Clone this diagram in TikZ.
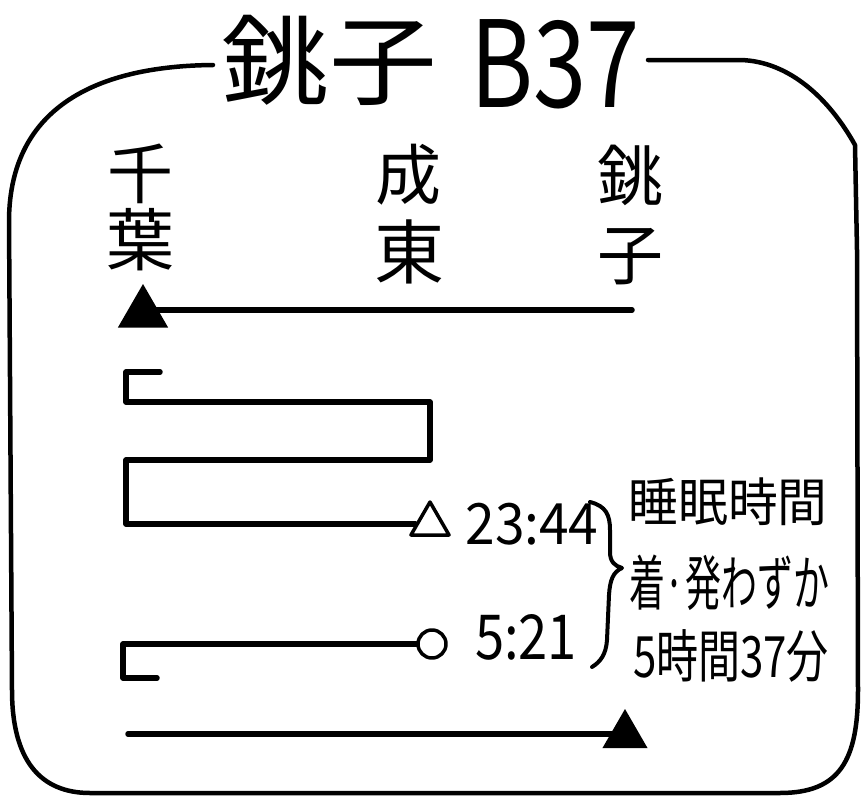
\documentclass[tikz,border=0pt]{standalone}
\usepackage{fontspec}
\usepackage{graphicx}
\usetikzlibrary{shapes.geometric}
\newfontfamily\jp{Noto Sans CJK JP}
\begin{document}
\begin{tikzpicture}[x=1pt,y=-1pt,line cap=round,line join=round,
  lbl/.style={inner sep=0pt,font=\jp},
  ln/.style={line width=5.5pt},
  frameline/.style={line width=4.5pt},
  filltri/.style={regular polygon,regular polygon sides=3,fill=black,inner sep=0pt},
  opentri/.style={regular polygon,regular polygon sides=3,draw=black,line width=3.5pt,inner sep=0pt},
  opencirc/.style={circle,draw=black,line width=3.5pt,inner sep=0pt,minimum size=28pt}]
\useasboundingbox (0,0) rectangle (863,798);
% title
\node[lbl] (t1) at (329,60) {\fontsize{98}{98}\selectfont\scalebox{1.1}[1]{銚子}};
\node[lbl] (t2) at (555,64) {\fontsize{120}{120}\selectfont\scalebox{0.8}[1]{B37}};
\coordinate (fl) at (213,65);
\coordinate (fr) at (648,60);
\draw[frameline] (fl) .. controls (100,66) and (10,105) .. (9,220) -- (12,690)
  .. controls (12,760) and (40,793) .. (90,793) -- (780,793)
  .. controls (840,793) and (858,760) .. (858,690) -- (857,250) -- (855,145)
  .. controls (830,100) and (790,61) .. (740,60) -- (fr);
% stations
\node[lbl] (s1a) at (140,174) {\fontsize{66}{66}\selectfont 千};
\node[lbl] (s1b) at (140,240) {\fontsize{68}{68}\selectfont 葉};
\node[lbl] (s2a) at (408,175) {\fontsize{66}{66}\selectfont 成};
\node[lbl] (s2b) at (409,252) {\fontsize{70}{70}\selectfont 東};
\node[lbl] (s3a) at (630,175) {\fontsize{66}{66}\selectfont 銚};
\node[lbl] (s3b) at (630,257) {\fontsize{66}{66}\selectfont 子};
% line 1
\node[filltri,minimum size=58pt] (tri1) at (143,313) {};
\coordinate (a1) at (632,310);
\draw[ln] (a1) -- (a1 -| tri1.center);
% zigzag line 2
\node[opentri,minimum size=44pt] (tri2) at (430,524) {};
\coordinate (z0) at (160,372);
\draw[ln] (z0) -- (126,372) -- (126,402) -- (430,402) -- (430,460) -- (126,460) -- (126,524) -- (tri2.west);
\node[lbl] (tm1) at (532,524) {\resizebox{133pt}{\height}{\fontsize{57}{57}\selectfont 23:44}};
% line 3
\node[opencirc] (c3) at (432,644) {};
\coordinate (s3) at (157,678);
\draw[ln] (c3.west) -- (123,644) -- (123,678) -- (s3);
\node[lbl] (tm2) at (526,637) {\resizebox{102pt}{\height}{\fontsize{62}{62}\selectfont 5:21}};
% brace
\draw[line width=4pt] (590,502) .. controls (606,506) and (610,515) .. (610,530) -- (610,552)
  .. controls (610,562) and (615,566) .. (622,568)
  .. controls (613,572) and (610,580) .. (609,595) -- (607,640)
  .. controls (606,655) and (600,662) .. (592,667);
% note
\node[lbl] (n1) at (728,502) {\resizebox{199pt}{\height}{\fontsize{52}{52}\selectfont 睡眠時間}};
\node[lbl] (n2) at (729,583) {\resizebox{200pt}{\height}{\fontsize{60}{60}\selectfont 着·発わずか}};
\node[lbl] (n3) at (731,656) {\resizebox{196pt}{\height}{\fontsize{57}{57}\selectfont 5時間37分}};
% line 4
\node[filltri,minimum size=52pt] (tri4) at (625,735) {};
\coordinate (b0) at (128,734);
\draw[ln] (b0) -- (b0 -| tri4.center);
\end{tikzpicture}
\end{document}
